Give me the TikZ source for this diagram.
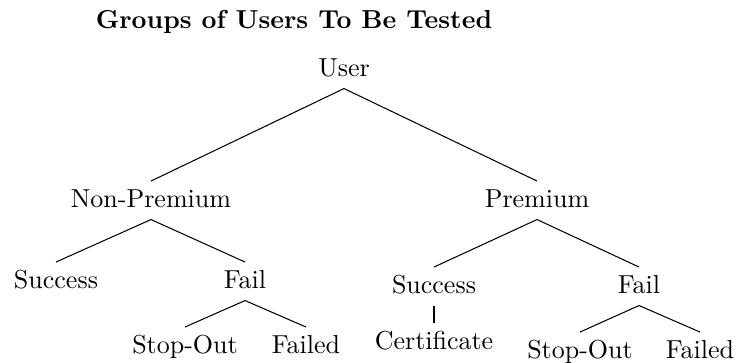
\documentclass[tikz,border=0pt]{standalone}
\usepackage{tikz}
\usetikzlibrary{positioning}
\tikzset{
	grp/.style = {
		inner sep=3.33pt,
		text height=1.5ex,
		text depth=0.3ex,
		anchor=base,
		align=center
	},
	heading/.style = {
		font=\bfseries,
		anchor=base,
		inner sep=0pt
	},
	branchline/.style = {
		-,
		line width=0.4pt
	}
}

\begin{document}
\begin{tikzpicture}[x=0.01352cm, y=-0.01352cm]
		
		% --- Marco ---
		\useasboundingbox (0,0) rectangle (737,362);
		
		% --- Titulo ---
		\node [heading] (title) at (294,28) {Groups of Users To Be Tested};
		
		% --- NODOS del arbol ---
		% Raiz
		\node [grp] (user) at (344,76) {User};
		
		% Primer nivel
		\node [grp] (nonprem) at (151,207) {Non-Premium};
		\node [grp] (prem) at (537,207) {Premium};
		
		% Rama no premium
		\node [grp] (npsucc) at (56,288) {Success};
		\node [grp] (npfail) at (245,288) {Fail};
		\node [grp] (npstop) at (185,353) {Stop-Out};
		\node [grp] (npfailed) at (306,353) {Failed};
		
		% Rama premium
		\node [grp] (psucc) at (434,293) {Success};
		\node [grp] (pfail) at (639,293) {Fail};
		\node [grp] (pcert) at (434,349) {Certificate};
		\node [grp] (pstop) at (580,358) {Stop-Out};
		\node [grp] (pfailed) at (700,358) {Failed};
		
		% --- CONEXIONES ---
		\draw [branchline] (user.south) -- (nonprem.north);
		\draw [branchline] (user.south) -- (prem.north);
		
		\draw [branchline] (nonprem.south) -- (npsucc.north);
		\draw [branchline] (nonprem.south) -- (npfail.north);
		\draw [branchline] (npfail.south) -- (npstop.north);
		\draw [branchline] (npfail.south) -- (npfailed.north);
		
		\draw [branchline] (prem.south) -- (psucc.north);
		\draw [branchline] (prem.south) -- (pfail.north);
		\draw [branchline] (psucc.south) -- (pcert.north);
		\draw [branchline] (pfail.south) -- (pstop.north);
		\draw [branchline] (pfail.south) -- (pfailed.north);
		
	\end{tikzpicture}
\end{document}
